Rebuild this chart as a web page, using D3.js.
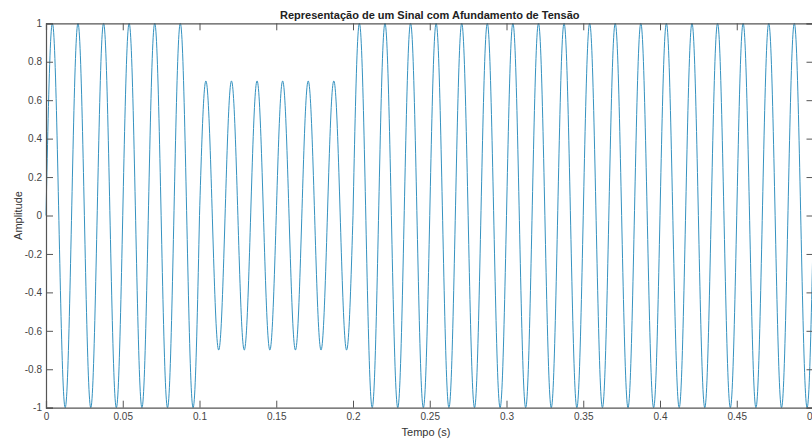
<!DOCTYPE html>
<html>
<head>
<meta charset="utf-8">
<script src="https://d3js.org/d3.v7.min.js"></script>
<style>
  body { margin: 0; background: #fff; }
  text { font-family: "Liberation Sans", Arial, sans-serif; }
</style>
</head>
<body>
<div id="chart"></div>
<script>
// signal description: 60 Hz sine, amplitude drops between 0.1 s and 0.2 s
const freq = 60;
const segStart = [0, 0.1, 0.2];
const segEnd = [0.1, 0.2, 0.5];
const segAmp = [1, 0.7, 1];
const sampleStep = 0.0002;

const xTicks = [0, 0.05, 0.1, 0.15, 0.2, 0.25, 0.3, 0.35, 0.4, 0.45, 0.5];
const yTicks = [-1, -0.8, -0.6, -0.4, -0.2, 0, 0.2, 0.4, 0.6, 0.8, 1];

const W = 812, H = 438;
const margin = {left: 46, right: -1.5, top: 23.3, bottom: 30.3};

let svg = d3.select("#chart").append("svg")
    .attr("width", W)
    .attr("height", H);

let x = d3.scaleLinear().domain([0, 0.5]).range([margin.left, W - margin.right]);
let y = d3.scaleLinear().domain([-1, 1]).range([H - margin.bottom, margin.top]);

// build the samples segment by segment
let signal = [];
segStart.forEach((s, i) => {
    for (let t = s; t <= segEnd[i] + 1e-9; t += sampleStep) {
        signal.push([t, segAmp[i] * Math.sin(2 * Math.PI * freq * t)]);
    }
});

let line = d3.line().x(d => x(d[0])).y(d => y(d[1]));

svg.append("path")
    .datum(signal)
    .attr("fill", "none")
    .attr("stroke", "#3592c0")
    .attr("stroke-width", 1)
    .attr("d", line);

// plain hyphen for negatives, like the original labels
const fmt = d => String(d);

// axes, MATLAB style: ticks inside the box
const axisColor = "#555";
let xAxis = svg.append("g")
    .attr("transform", `translate(0,${y(-1)})`)
    .call(d3.axisBottom(x).tickValues(xTicks).tickSize(-7).tickPadding(5).tickFormat(fmt));
let xTop = svg.append("g")
    .attr("transform", `translate(0,${y(1)})`)
    .call(d3.axisTop(x).tickValues(xTicks).tickSize(-7).tickFormat(""));
let yAxis = svg.append("g")
    .attr("transform", `translate(${x(0)},0)`)
    .call(d3.axisLeft(y).tickValues(yTicks).tickSize(-7).tickPadding(4).tickFormat(fmt));
let yRight = svg.append("g")
    .attr("transform", `translate(${x(0.5)},0)`)
    .call(d3.axisRight(y).tickValues(yTicks).tickSize(-7).tickFormat(""));

[xAxis, xTop, yAxis, yRight].forEach(g => {
    g.select(".domain").attr("stroke", axisColor).attr("stroke-width", 1.2);
    g.selectAll(".tick line").attr("stroke", axisColor);
    g.selectAll("text").attr("fill", "#444").attr("font-size", 10)
        .attr("font-family", "Liberation Sans, Arial, sans-serif");
});

svg.append("text")
    .attr("x", (x(0) + x(0.5)) / 2)
    .attr("y", 18.5)
    .attr("text-anchor", "middle")
    .attr("font-weight", "bold")
    .attr("font-size", 11)
    .attr("fill", "#222")
    .text("Representação de um Sinal com Afundamento de Tensão");

svg.append("text")
    .attr("x", 426)
    .attr("y", 435.5)
    .attr("text-anchor", "middle")
    .attr("font-size", 11)
    .attr("fill", "#333")
    .text("Tempo (s)");

svg.append("text")
    .attr("transform", `translate(22,${(y(-1) + y(1)) / 2}) rotate(-90)`)
    .attr("text-anchor", "middle")
    .attr("font-size", 11)
    .attr("fill", "#333")
    .text("Amplitude");
</script>
</body>
</html>
